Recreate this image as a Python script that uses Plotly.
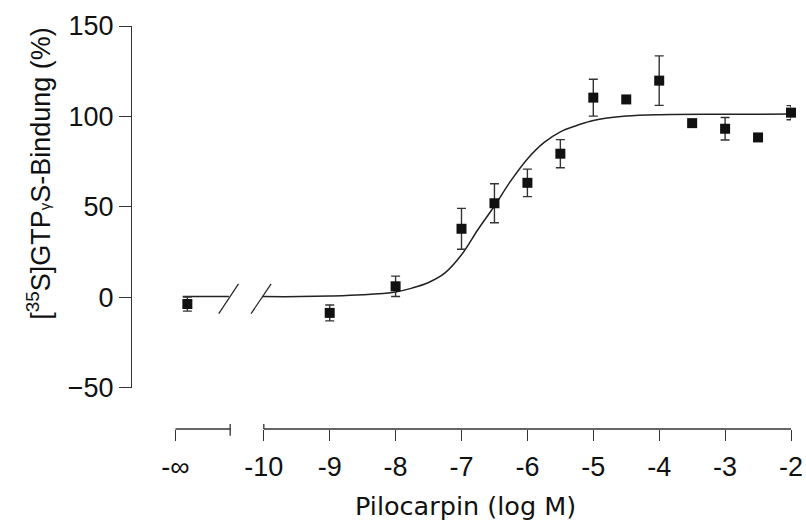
import plotly.graph_objects as go

# ---- data ----
dose_log = [-11.16, -9, -8, -7, -6.5, -6, -5.5, -5, -4.5, -4, -3.5, -3, -2.5, -2]
binding_mean = [-3.7, -8.6, 6.1, 37.9, 52.0, 63.3, 79.4, 110.4, 109.4, 119.8, 96.3, 93.2, 88.4, 102.1]
binding_sem = [3.9, 4.4, 5.6, 11.3, 10.8, 7.6, 7.8, 10.2, 0, 13.7, 0, 6.2, 0, 3.9]

fit_left_x = [-11.23, -10.53]
fit_left_y = [0.4, 0.4]
fit_x = [-10.02, -9.45, -9.0, -8.5, -8.0, -7.75, -7.5, -7.25, -7.0, -6.75, -6.5, -6.25,
         -6.0, -5.75, -5.5, -5.25, -5.0, -4.5, -4.0, -3.0, -2.0]
fit_y = [0.4, 0.4, 0.7, 1.4, 3.0, 5.1, 8.2, 13.5, 23.5, 37.5, 50.5, 64.5,
         76.5, 85.5, 91.5, 95.0, 97.8, 100.2, 101.0, 101.2, 101.3]

x_tick_vals = [-11.34, -10, -9, -8, -7, -6, -5, -4, -3, -2]
x_tick_text = ["-∞", "-10", "-9", "-8", "-7", "-6", "-5", "-4", "-3", "-2"]
y_tick_vals = [-50, 0, 50, 100, 150]

x_break = [-10.51, -10.0]
slash_1 = ([-10.683, -10.384], [-9.0, 7.4])
slash_2 = ([-10.193, -9.889], [-9.0, 7.4])

AX = "#333333"
NUM_FONT = "Liberation Sans, Arial, sans-serif"

fig = go.Figure()

fig.add_trace(go.Scatter(x=fit_left_x, y=fit_left_y, mode="lines",
                         line=dict(color="#222", width=1.5), showlegend=False,
                         hoverinfo="skip"))
fig.add_trace(go.Scatter(x=fit_x, y=fit_y, mode="lines", line_shape="spline",
                         line=dict(color="#222", width=1.5), showlegend=False,
                         hoverinfo="skip"))
fig.add_trace(go.Scatter(
    x=dose_log, y=binding_mean, mode="markers", cliponaxis=False,
    marker=dict(symbol="square", size=10, color="#111"),
    error_y=dict(type="data", array=binding_sem, visible=True,
                 color="#333", thickness=1.4, width=4.5),
    showlegend=False))

shapes = []
# broken x axis line
shapes.append(dict(type="line", xref="x", yref="paper", x0=x_tick_vals[0], x1=x_break[0],
                   y0=0, y1=0, line=dict(color=AX, width=1.3)))
shapes.append(dict(type="line", xref="x", yref="paper", x0=x_break[1], x1=x_tick_vals[-1],
                   y0=0, y1=0, line=dict(color=AX, width=1.3)))
shapes.append(dict(type="line", xref="x", yref="paper", x0=x_break[0], x1=x_break[0],
                   y0=0.0124, y1=-0.0166, line=dict(color=AX, width=1.3)))
shapes.append(dict(type="line", xref="x", yref="paper", x0=x_break[1], x1=x_break[1],
                   y0=0.0124, y1=0, line=dict(color=AX, width=1.3)))
# slashes on the curve
for sx, sy in (slash_1, slash_2):
    shapes.append(dict(type="line", xref="x", yref="y", x0=sx[0], x1=sx[1],
                       y0=sy[0], y1=sy[1], line=dict(color="#222", width=1.2)))

fig.update_layout(
    width=806, height=524,
    margin=dict(l=131.7, r=15.3, t=25.7, b=94.7, autoexpand=False),
    plot_bgcolor="white", paper_bgcolor="white",
    shapes=shapes,
    xaxis=dict(range=[-12, -2], anchor="free", position=0, showline=False,
               showgrid=False, zeroline=False, ticks="outside", ticklen=11,
               tickwidth=1.3, tickcolor=AX, tickvals=x_tick_vals, ticktext=x_tick_text,
               tickfont=dict(family=NUM_FONT, size=27, color="#111"),
               automargin=False, ticklabelstandoff=3),
    yaxis=dict(range=[-50, 150], domain=[0.1023, 1], anchor="x", showline=True,
               linecolor=AX, linewidth=1.3, showgrid=False, zeroline=False,
               ticks="outside", ticklen=12, tickwidth=1.3, tickcolor=AX,
               tickvals=y_tick_vals,
               tickfont=dict(family=NUM_FONT, size=27, color="#111"),
               automargin=False),
    annotations=[
        dict(text="[<sup>35</sup>S]GTP<span style='font-size:15px'>γ</span>S-Bindung (%)",
             xref="paper", yref="paper", x=-0.1422, y=0.6338, textangle=-90,
             showarrow=False, xanchor="center", yanchor="middle",
             font=dict(family=NUM_FONT, size=27, color="#111")),
        dict(text="Pilocarpin (log M)", xref="paper", yref="paper", x=0.506, y=-0.19,
             showarrow=False, xanchor="center", yanchor="middle",
             font=dict(family="DejaVu Sans, Verdana, sans-serif", size=25.5, color="#111")),
    ],
)

fig.write_html("out.html")
